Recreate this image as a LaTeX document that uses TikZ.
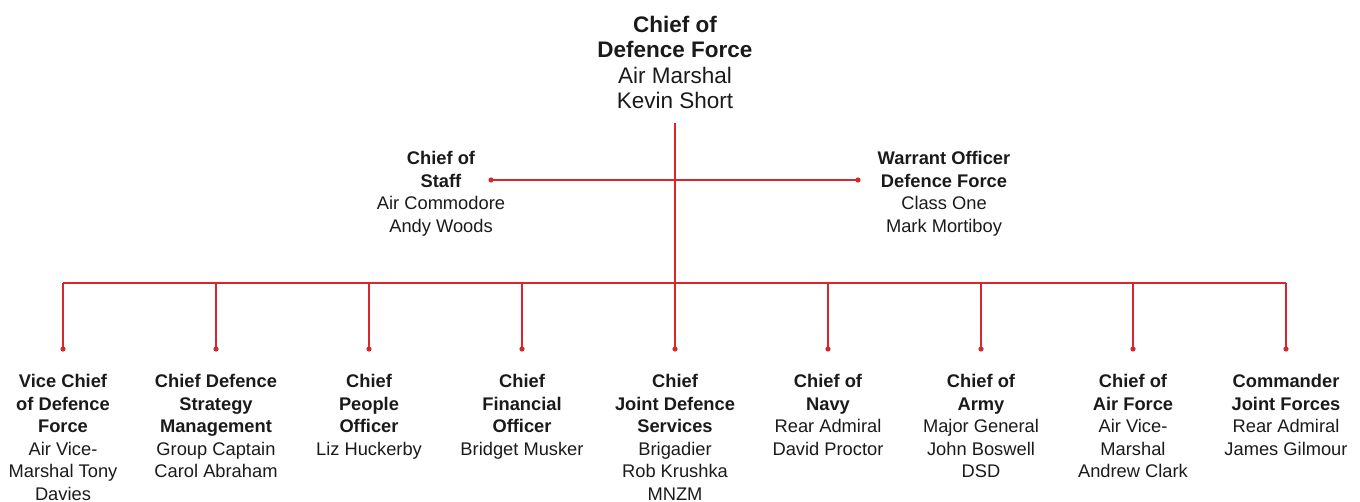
\documentclass[tikz,border=0pt]{standalone}
\usepackage{fontspec}
\setmainfont{Liberation Sans}
\definecolor{nzred}{HTML}{D7262E}
\definecolor{ink}{HTML}{1A1A1A}
\begin{document}
\begin{tikzpicture}[x=1pt,y=-1pt,
  link/.style={draw=nzred,line width=1.3pt},
  dotmark/.style={fill=nzred,draw=none},
  toptext/.style={align=center,inner sep=0pt,anchor=north,text=ink,font=\fontsize{22.5}{25.5}\selectfont},
  midtext/.style={align=center,inner sep=0pt,anchor=north,text=ink,font=\fontsize{18.3}{22.6}\selectfont},
  bottext/.style={align=center,inner sep=0pt,anchor=north,text=ink,font=\fontsize{18.3}{22.6}\selectfont}]
\useasboundingbox (0,0) rectangle (1360,501);
% top
\node[toptext] (cdf) at (675,15.5) {\textbf{Chief of}\\\textbf{Defence Force}\\Air Marshal\\Kevin Short};
\coordinate (top) at (675,123);
\coordinate (hub) at (675,283);
% middle
\node[midtext] (cos) at (441,151) {\textbf{Chief of}\\\textbf{Staff}\\Air Commodore\\Andy Woods};
\node[midtext] (wo) at (944,151) {\textbf{Warrant Officer}\\\textbf{Defence Force}\\Class One\\Mark Mortiboy};
\coordinate (cosd) at (491,180);
\coordinate (wod) at (858,180);
\draw[link] (top) -- (hub);
\draw[link] (cosd) -- (wod);
\fill[dotmark] (cosd) circle (2.6);
\fill[dotmark] (wod) circle (2.6);
% bottom bus
\foreach \i/\x in {1/63,2/216,3/369,4/522,5/675,6/828,7/981,8/1133,9/1286}{
  \coordinate (b\i) at (\x,283);
  \coordinate (d\i) at (\x,349);
}
\draw[link] (b1) -- (b9);
\foreach \i in {1,...,9}{
  \draw[link] (b\i) -- (d\i);
  \fill[dotmark] (d\i) circle (2.6);
}
% bottom nodes
\node[bottext] (n1) at (63,374) {\textbf{Vice Chief}\\\textbf{of Defence}\\\textbf{Force}\\Air Vice-\\Marshal Tony\\Davies};
\node[bottext] (n2) at (216,374) {\textbf{Chief Defence}\\\textbf{Strategy}\\\textbf{Management}\\Group Captain\\Carol Abraham};
\node[bottext] (n3) at (369,374) {\textbf{Chief}\\\textbf{People}\\\textbf{Officer}\\Liz Huckerby};
\node[bottext] (n4) at (522,374) {\textbf{Chief}\\\textbf{Financial}\\\textbf{Officer}\\Bridget Musker};
\node[bottext] (n5) at (675,374) {\textbf{Chief}\\\textbf{Joint Defence}\\\textbf{Services}\\Brigadier\\Rob Krushka\\MNZM};
\node[bottext] (n6) at (828,374) {\textbf{Chief of}\\\textbf{Navy}\\Rear Admiral\\David Proctor};
\node[bottext] (n7) at (981,374) {\textbf{Chief of}\\\textbf{Army}\\Major General\\John Boswell\\DSD};
\node[bottext] (n8) at (1133,374) {\textbf{Chief of}\\\textbf{Air Force}\\Air Vice-\\Marshal\\Andrew Clark};
\node[bottext] (n9) at (1286,374) {\textbf{Commander}\\\textbf{Joint Forces}\\Rear Admiral\\James Gilmour};
\end{tikzpicture}
\end{document}
